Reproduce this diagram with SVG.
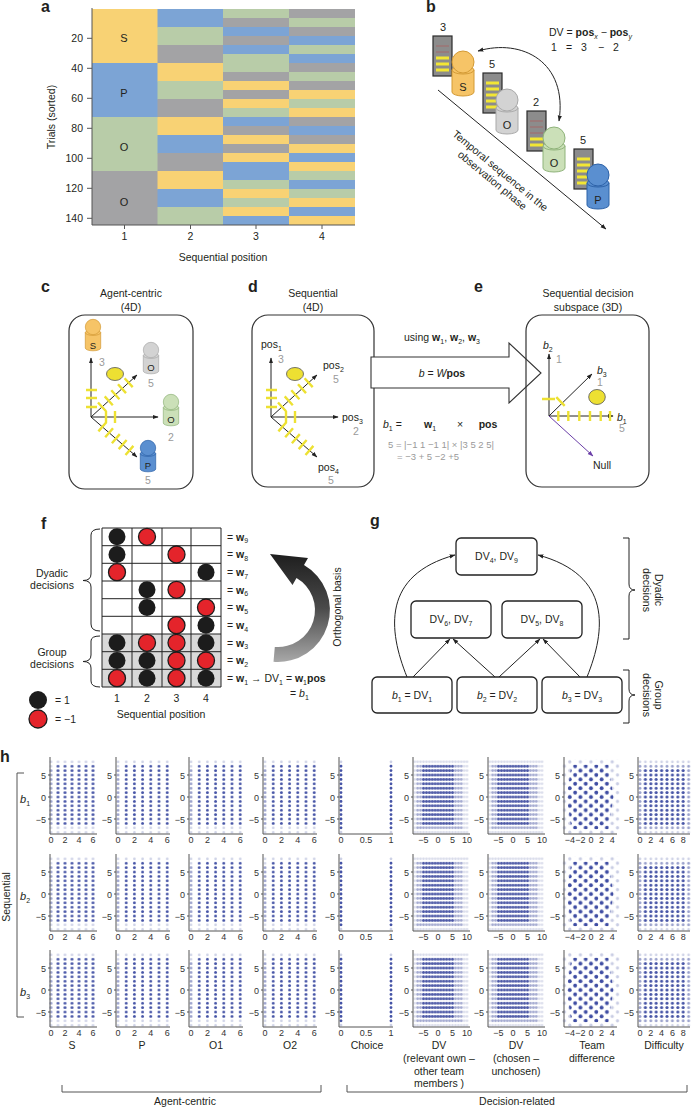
<svg xmlns="http://www.w3.org/2000/svg" xmlns:xlink="http://www.w3.org/1999/xlink" width="692" height="1107" viewBox="0 0 692 1107">
<style>
text{font-family:"Liberation Sans",Arial,Helvetica,sans-serif;fill:#231f20}
.pl{font-size:16px;font-weight:bold}
.f11{font-size:11px}
.f10{font-size:10.5px}
.f9{font-size:9.5px}
.tk{font-size:9px;fill:#333}
.sb{font-size:7px}
.gr{fill:#9a9a9a}
.c{text-anchor:middle}
.r{text-anchor:end}
.bd{font-weight:bold}
.it{font-style:italic}
.ax{stroke:#555;stroke-width:1;fill:none}
.ln{stroke:#222;stroke-width:1;fill:none}
.box{fill:none;stroke:#333;stroke-width:1.2}
.node{fill:#fff;stroke:#222;stroke-width:1.3}
.yt{stroke:#EDE132;stroke-width:2.4;fill:none}
.Y{fill:#F8D274}.B{fill:#7CA4D5}.G{fill:#B8CCA8}.K{fill:#A3A3A5}
.cb{fill:#1c1c1c}
.cr{fill:#E4242B;stroke:#1c1c1c;stroke-width:1.3}
.card{fill:#8C8C8C;stroke:#2b2b2b;stroke-width:1.2}
.ys{stroke:#F2E634;stroke-width:3.2}
.fs{stroke:#9C7474;stroke-width:1.4}
.dl{fill:none;stroke:#CDD1E6;stroke-width:2.8;stroke-linecap:round;stroke-dasharray:0 4.4}
.dd{fill:none;stroke:#4553A6;stroke-width:2.8;stroke-linecap:round;stroke-dasharray:0 4.4}
</style>
<defs>
<marker id="ah" viewBox="0 0 10 10" refX="9" refY="5" markerWidth="6" markerHeight="6" markerUnits="userSpaceOnUse" orient="auto-start-reverse"><path d="M0,1.5L10,5L0,8.5z" fill="#222"/></marker>
<marker id="ahp" viewBox="0 0 10 10" refX="9" refY="5" markerWidth="6" markerHeight="6" markerUnits="userSpaceOnUse" orient="auto"><path d="M0,1.5L10,5L0,8.5z" fill="#6B3FA8"/></marker>
<linearGradient id="gArc" x1="0" y1="0" x2="0" y2="1"><stop offset="0" stop-color="#1e1e1e"/><stop offset="0.5" stop-color="#4a4a4a"/><stop offset="1" stop-color="#a8a8a8"/></linearGradient>
<g id="agent"><path d="M-11,8V30A11,4 0 0 0 11,30V8Z"/><ellipse cx="0" cy="8" rx="11" ry="4"/><circle cx="0" cy="0" r="11"/></g>
<g id="axes4d">
<path class="ln" d="M0,0V-59" marker-end="url(#ah)"/>
<path class="ln" d="M0,0H67" marker-end="url(#ah)"/>
<path class="ln" d="M0,0L46,-42" marker-end="url(#ah)"/>
<path class="ln" d="M0,0L46,40" marker-end="url(#ah)"/>
<path class="yt" d="M-5,-10h11M-5,-19h11M-5,-27h11M15,-6v12M24,-6v12M15.1,-5.7L7,-14.5M21.8,-11.8L13.7,-20.6M28.4,-17.8L20.3,-26.7M35,-23.9L27,-32.7M41.7,-29.9L33.6,-38.8M15.3,5.3L7.4,14.4M22,11.2L14.2,20.3M28.8,17.1L20.9,26.2M35.6,23L27.7,32.1M42.4,28.9L34.5,38"/>
<ellipse cx="24" cy="-43" rx="8.5" ry="6.5" fill="#EDE032" stroke="#555" stroke-width="0.8"/>
</g>
<pattern id="p1L" patternUnits="userSpaceOnUse" x="-3.5" y="-2.2" width="7" height="4.4"><circle cx="3.5" cy="2.2" r="1.35" fill="#CDD1E6"/></pattern>
<pattern id="p1M" patternUnits="userSpaceOnUse" x="-3.5" y="-2.2" width="7" height="4.4"><circle cx="3.5" cy="2.2" r="1.35" fill="#9AA1CC"/></pattern>
<pattern id="p1D" patternUnits="userSpaceOnUse" x="-3.5" y="-2.2" width="7" height="4.4"><circle cx="3.5" cy="2.2" r="1.4" fill="#4553A6"/></pattern>
<pattern id="pAL" patternUnits="userSpaceOnUse" x="-4.1" y="-2.2" width="8.2" height="4.4"><circle cx="4.1" cy="2.2" r="1.35" fill="#CDD1E6"/></pattern>
<pattern id="pAM" patternUnits="userSpaceOnUse" x="-4.1" y="-2.2" width="8.2" height="4.4"><circle cx="4.1" cy="2.2" r="1.35" fill="#9AA1CC"/></pattern>
<pattern id="pAD" patternUnits="userSpaceOnUse" x="-4.1" y="-2.2" width="8.2" height="4.4"><circle cx="4.1" cy="2.2" r="1.4" fill="#4553A6"/></pattern>
<pattern id="pVL" patternUnits="userSpaceOnUse" x="-1.45" y="-2.2" width="2.9" height="4.4"><circle cx="1.45" cy="2.2" r="1.3" fill="#D8DBEA"/></pattern>
<pattern id="pVM" patternUnits="userSpaceOnUse" x="-1.45" y="-2.2" width="2.9" height="4.4"><circle cx="1.45" cy="2.2" r="1.3" fill="#A2A8D0"/></pattern>
<pattern id="pVD" patternUnits="userSpaceOnUse" x="-1.45" y="-2.2" width="2.9" height="4.4"><circle cx="1.45" cy="2.2" r="1.35" fill="#4B57A6"/></pattern>
<pattern id="pTL" patternUnits="userSpaceOnUse" x="-2.65" y="-2.2" width="10.6" height="8.8"><circle cx="2.65" cy="2.2" r="1.6" fill="#C9CDE4"/><circle cx="7.95" cy="6.6" r="1.6" fill="#C9CDE4"/></pattern>
<pattern id="pTD" patternUnits="userSpaceOnUse" x="-2.65" y="-2.2" width="10.6" height="8.8"><circle cx="2.65" cy="2.2" r="1.9" fill="#3F4DA3"/><circle cx="7.95" cy="6.6" r="1.9" fill="#3F4DA3"/></pattern>
<pattern id="pFL" patternUnits="userSpaceOnUse" x="-2.7" y="-2.2" width="5.4" height="4.4"><circle cx="2.7" cy="2.2" r="1.35" fill="#CDD1E6"/></pattern>
<pattern id="pFM" patternUnits="userSpaceOnUse" x="-2.7" y="-2.2" width="5.4" height="4.4"><circle cx="2.7" cy="2.2" r="1.35" fill="#9AA1CC"/></pattern>
<pattern id="pFD" patternUnits="userSpaceOnUse" x="-2.7" y="-2.2" width="5.4" height="4.4"><circle cx="2.7" cy="2.2" r="1.4" fill="#4553A6"/></pattern>
<g id="yax">
<path class="ax" d="M0,-22h-2M0,0h-2M0,22h-2"/>
<text class="tk r" x="-4" y="-18.5">5</text><text class="tk r" x="-4" y="3.5">0</text><text class="tk r" x="-4" y="25.5">−5</text>
</g>
<g id="plot1">
<g transform="translate(1,0)"><rect x="-3.5" y="-37.4" width="49" height="74.8" fill="url(#p1L)"/><rect x="-3.5" y="-28.6" width="7" height="57.2" fill="url(#p1M)"/><rect x="3.5" y="-33" width="42" height="61.6" fill="url(#p1D)"/></g>
<path class="ax" d="M0,-40V37H47"/><use xlink:href="#yax"/>
<text class="tk c" x="1" y="46">0</text><text class="tk c" x="15" y="46">2</text><text class="tk c" x="29" y="46">4</text><text class="tk c" x="43" y="46">6</text>
</g>
<g id="plotA">
<g transform="translate(2,0)"><rect x="-4.1" y="-37.4" width="57.4" height="74.8" fill="url(#pAL)"/><rect x="-4.1" y="-28.6" width="8.2" height="57.2" fill="url(#pAM)"/><rect x="4.1" y="-33" width="49.2" height="61.6" fill="url(#pAD)"/></g>
<path class="ax" d="M0,-40V37H54"/><use xlink:href="#yax"/>
<text class="tk c" x="2" y="46">0</text><text class="tk c" x="18.4" y="46">2</text><text class="tk c" x="34.8" y="46">4</text><text class="tk c" x="51.2" y="46">6</text>
</g>
<g id="plotC">
<path class="dl" d="M2,-35.2V35.3M52,-35.2V35.3"/>
<path class="dd" d="M2,-30.8V30.9M52,-30.8V30.9"/>
<path class="ax" d="M0,-40V37H54"/><use xlink:href="#yax"/>
<text class="tk c" x="2" y="46">0</text><text class="tk c" x="27" y="46">0.5</text><text class="tk c" x="52" y="46">1</text>
</g>
<g id="plotV">
<g transform="translate(25,0)"><rect x="-24.65" y="-37.4" width="55.1" height="74.8" fill="url(#pVL)"/><rect x="-21.75" y="-33" width="46.4" height="66" fill="url(#pVM)"/><rect x="-15.95" y="-33" width="31.9" height="61.6" fill="url(#pVD)"/></g>
<path class="ax" d="M0,-40V37H57"/><use xlink:href="#yax"/>
<text class="tk c" x="10.5" y="46">−5</text><text class="tk c" x="25" y="46">0</text><text class="tk c" x="39.5" y="46">5</text><text class="tk c" x="54" y="46">10</text>
</g>
<g id="plotT">
<g transform="translate(27,0)"><rect x="-29.15" y="-37.4" width="58.3" height="74.8" fill="url(#pTL)"/><polygon points="-19.6,-32.1 17.5,-32.1 22.3,0 17.5,32.1 -19.6,32.1 -24.4,0" fill="url(#pTD)"/></g>
<path class="ax" d="M0,-40V37H53"/><use xlink:href="#yax"/>
<text class="tk c" x="5.8" y="46">−4</text><text class="tk c" x="16.4" y="46">−2</text><text class="tk c" x="27" y="46">0</text><text class="tk c" x="37.6" y="46">2</text><text class="tk c" x="48.2" y="46">4</text>
</g>
<g id="plotF">
<g transform="translate(2,0)"><rect x="-2.7" y="-37.4" width="54" height="74.8" fill="url(#pFL)"/><rect x="-2.7" y="-33" width="54" height="66" fill="url(#pFM)"/><rect x="2.7" y="-28.6" width="43.2" height="57.2" fill="url(#pFD)"/></g>
<path class="ax" d="M0,-40V37H52"/><use xlink:href="#yax"/>
<text class="tk c" x="2" y="46">0</text><text class="tk c" x="12.8" y="46">2</text><text class="tk c" x="23.6" y="46">4</text><text class="tk c" x="34.4" y="46">6</text><text class="tk c" x="45.2" y="46">8</text>
</g>
</defs>
<rect width="692" height="1107" fill="#fff"/>

<!-- panel a -->
<g id="panel-a">
<text class="pl" x="41" y="12">a</text>
<g id="heatmap">
<rect class="Y" x="92" y="9" width="66" height="54.5"/><rect class="B" x="92" y="63" width="66" height="54.5"/><rect class="G" x="92" y="117" width="66" height="54.5"/><rect class="K" x="92" y="171" width="66" height="54"/>
<rect class="B" x="157.5" y="9" width="66" height="18.4"/><rect class="G" x="157.5" y="27" width="66" height="18.4"/><rect class="K" x="157.5" y="45" width="66" height="18.4"/><rect class="Y" x="157.5" y="63" width="66" height="18.4"/><rect class="G" x="157.5" y="81" width="66" height="18.4"/><rect class="K" x="157.5" y="99" width="66" height="18.4"/><rect class="Y" x="157.5" y="117" width="66" height="18.4"/><rect class="B" x="157.5" y="135" width="66" height="18.4"/><rect class="K" x="157.5" y="153" width="66" height="18.4"/><rect class="Y" x="157.5" y="171" width="66" height="18.4"/><rect class="B" x="157.5" y="189" width="66" height="18.4"/><rect class="G" x="157.5" y="207" width="66" height="18"/>
<g transform="translate(223,0)">
<rect class="G" y="9" width="66.5" height="9.4"/><rect class="K" y="18" width="66.5" height="9.4"/><rect class="B" y="27" width="66.5" height="9.4"/><rect class="K" y="36" width="66.5" height="9.4"/><rect class="B" y="45" width="66.5" height="9.4"/><rect class="G" y="54" width="66.5" height="9.4"/><rect class="G" y="63" width="66.5" height="9.4"/><rect class="K" y="72" width="66.5" height="9.4"/><rect class="Y" y="81" width="66.5" height="9.4"/><rect class="K" y="90" width="66.5" height="9.4"/><rect class="Y" y="99" width="66.5" height="9.4"/><rect class="G" y="108" width="66.5" height="9.4"/><rect class="B" y="117" width="66.5" height="9.4"/><rect class="K" y="126" width="66.5" height="9.4"/><rect class="Y" y="135" width="66.5" height="9.4"/><rect class="K" y="144" width="66.5" height="9.4"/><rect class="Y" y="153" width="66.5" height="9.4"/><rect class="B" y="162" width="66.5" height="9.4"/><rect class="B" y="171" width="66.5" height="9.4"/><rect class="G" y="180" width="66.5" height="9.4"/><rect class="Y" y="189" width="66.5" height="9.4"/><rect class="G" y="198" width="66.5" height="9.4"/><rect class="Y" y="207" width="66.5" height="9.4"/><rect class="B" y="216" width="66.5" height="9"/>
</g>
<g transform="translate(289,0)">
<rect class="K" y="9" width="66" height="9.4"/><rect class="G" y="18" width="66" height="9.4"/><rect class="K" y="27" width="66" height="9.4"/><rect class="B" y="36" width="66" height="9.4"/><rect class="G" y="45" width="66" height="9.4"/><rect class="B" y="54" width="66" height="9.4"/><rect class="K" y="63" width="66" height="9.4"/><rect class="G" y="72" width="66" height="9.4"/><rect class="K" y="81" width="66" height="9.4"/><rect class="Y" y="90" width="66" height="9.4"/><rect class="G" y="99" width="66" height="9.4"/><rect class="Y" y="108" width="66" height="9.4"/><rect class="K" y="117" width="66" height="9.4"/><rect class="B" y="126" width="66" height="9.4"/><rect class="K" y="135" width="66" height="9.4"/><rect class="Y" y="144" width="66" height="9.4"/><rect class="B" y="153" width="66" height="9.4"/><rect class="Y" y="162" width="66" height="9.4"/><rect class="G" y="171" width="66" height="9.4"/><rect class="B" y="180" width="66" height="9.4"/><rect class="G" y="189" width="66" height="9.4"/><rect class="Y" y="198" width="66" height="9.4"/><rect class="B" y="207" width="66" height="9.4"/><rect class="Y" y="216" width="66" height="9"/>
</g>
<text class="f11 c" x="124" y="42">S</text><text class="f11 c" x="124" y="97">P</text><text class="f11 c" x="124" y="151">O</text><text class="f11 c" x="124" y="206">O</text>
</g>
<path class="ax" d="M92,8V225H355M87,38.3h5M87,68.3h5M87,98.3h5M87,128.3h5M87,158.3h5M87,188.3h5M87,218.3h5M124.5,225v4M190.5,225v4M256,225v4M322,225v4"/>
<text class="f10 r" x="83" y="42">20</text><text class="f10 r" x="83" y="72">40</text><text class="f10 r" x="83" y="102">60</text><text class="f10 r" x="83" y="132">80</text><text class="f10 r" x="83" y="162">100</text><text class="f10 r" x="83" y="192">120</text><text class="f10 r" x="83" y="222">140</text>
<text class="f10 c" x="124.5" y="240">1</text><text class="f10 c" x="190.5" y="240">2</text><text class="f10 c" x="256" y="240">3</text><text class="f10 c" x="322" y="240">4</text>
<text class="f10 c" x="223" y="261">Sequential position</text>
<text class="f10 c" transform="translate(55,117) rotate(-90)">Trials (sorted)</text>
</g>

<!-- panel b -->
<g id="panel-b">
<text class="pl" x="426" y="12">b</text>
<text class="f10" x="549" y="36">DV = <tspan class="bd">pos</tspan><tspan class="sb it" dy="2.5">x</tspan><tspan dy="-2.5"> − </tspan><tspan class="bd">pos</tspan><tspan class="sb it" dy="2.5">y</tspan></text>
<text class="f10" y="51"><tspan x="551">1</tspan><tspan x="566">=</tspan><tspan x="581">3</tspan><tspan x="598">−</tspan><tspan x="613">2</tspan></text>
<g id="agent-b-S">
<rect class="card" x="433" y="36" width="19" height="40"/>
<path class="fs" d="M436,46h13M436,52h13"/><path class="ys" d="M436,58h13M436,64h13M436,70h13"/>
<text class="f11 c" x="443" y="31">3</text>
<use xlink:href="#agent" transform="translate(463,62)" fill="#F6C467" stroke="#D39A35"/>
<text class="f11 c" x="463" y="91">S</text>
</g>
<g id="agent-b-O1">
<rect class="card" x="483" y="73" width="19" height="40"/>
<path class="ys" d="M486,83h13M486,89h13M486,95h13M486,101h13M486,107h13"/>
<text class="f11 c" x="492" y="68">5</text>
<use xlink:href="#agent" transform="translate(507,100)" fill="#D3D3D3" stroke="#A9A9A9"/>
<text class="f11 c" x="507" y="129">O</text>
</g>
<g id="agent-b-O2">
<rect class="card" x="527" y="111" width="19" height="40"/>
<path class="fs" d="M530,121h13M530,127h13M530,133h13"/><path class="ys" d="M530,139h13M530,145h13"/>
<text class="f11 c" x="536" y="106">2</text>
<use xlink:href="#agent" transform="translate(554,138)" fill="#CBE0B8" stroke="#8FB37A"/>
<text class="f11 c" x="554" y="167">O</text>
</g>
<g id="agent-b-P">
<rect class="card" x="574" y="149" width="19" height="40"/>
<path class="ys" d="M577,159h13M577,165h13M577,171h13M577,177h13M577,183h13"/>
<text class="f11 c" x="583" y="144">5</text>
<use xlink:href="#agent" transform="translate(598,175)" fill="#5A8FD0" stroke="#2D62A8"/>
<text class="f11 c" x="598" y="204">P</text>
</g>
<g id="connectors-b">
<path class="ln" d="M478,51C522,38 568,62 559,121" marker-start="url(#ah)" marker-end="url(#ah)"/>
<path class="ln" d="M438,90L606,229" marker-end="url(#ah)"/>
</g>
<text class="f10 c" transform="translate(498,173.5) rotate(39.6)">Temporal sequence in the</text>
<text class="f10 c" transform="translate(490,183) rotate(39.6)">observation phase</text>
</g>

<!-- panel c -->
<g id="panel-c">
<text class="pl" x="41" y="292">c</text>
<text class="f10 c" x="131" y="297">Agent-centric</text>
<text class="f10 c" x="131" y="311">(4D)</text>
<rect class="box" x="69" y="315" width="124" height="174" rx="16"/>
<use xlink:href="#axes4d" transform="translate(91,417)"/>
<use xlink:href="#agent" transform="translate(93,327) scale(0.7)" fill="#F6C467" stroke="#D39A35"/>
<text class="f9 c" x="93" y="349">S</text>
<use xlink:href="#agent" transform="translate(151,350) scale(0.7)" fill="#D3D3D3" stroke="#A9A9A9"/>
<text class="f9 c" x="151" y="371">O</text>
<use xlink:href="#agent" transform="translate(171,402) scale(0.7)" fill="#CBE0B8" stroke="#8FB37A"/>
<text class="f9 c" x="171" y="423">O</text>
<use xlink:href="#agent" transform="translate(148,448) scale(0.7)" fill="#5A8FD0" stroke="#2D62A8"/>
<text class="f9 c" x="148" y="469">P</text>
<text class="f10 c gr" x="102" y="366">3</text>
<text class="f10 c gr" x="151" y="387">5</text>
<text class="f10 c gr" x="171" y="441">2</text>
<text class="f10 c gr" x="148" y="484">5</text>
</g>

<!-- panel d -->
<g id="panel-d">
<text class="pl" x="248" y="292">d</text>
<text class="f10 c" x="313" y="297">Sequential</text>
<text class="f10 c" x="313" y="311">(4D)</text>
<rect class="box" x="252" y="315" width="122" height="172" rx="16"/>
<use xlink:href="#axes4d" transform="translate(271,417)"/>
<text class="f10" x="261" y="348">pos<tspan class="sb" dy="2.5">1</tspan></text>
<text class="f10 gr" x="278" y="363">3</text>
<text class="f10" x="323" y="369">pos<tspan class="sb" dy="2.5">2</tspan></text>
<text class="f10 gr" x="333" y="383">5</text>
<text class="f10" x="342" y="421">pos<tspan class="sb" dy="2.5">3</tspan></text>
<text class="f10 gr" x="353" y="435">2</text>
<text class="f10" x="318" y="471">pos<tspan class="sb" dy="2.5">4</tspan></text>
<text class="f10 gr" x="328" y="484">5</text>
</g>

<!-- big transform arrow -->
<g id="transform-arrow">
<polygon points="371,357 509,357 509,343 541,373 509,403 509,388 371,388" fill="#fff" stroke="#333" stroke-width="1.1"/>
<text class="f10 c" x="442" y="341">using <tspan class="bd">w</tspan><tspan class="sb" dy="2.5">1</tspan><tspan dy="-2.5">, </tspan><tspan class="bd">w</tspan><tspan class="sb" dy="2.5">2</tspan><tspan dy="-2.5">, </tspan><tspan class="bd">w</tspan><tspan class="sb" dy="2.5">3</tspan></text>
<text class="f10 c" x="442" y="377"><tspan class="it">b</tspan> = <tspan class="it">W</tspan><tspan class="bd">pos</tspan></text>
<text class="f10" x="383" y="428"><tspan class="it">b</tspan><tspan class="sb" dy="2.5">1</tspan><tspan dy="-2.5"> =</tspan></text>
<text class="f10" x="424" y="428"><tspan class="bd">w</tspan><tspan class="sb" dy="2.5">1</tspan></text>
<text class="f10 c" x="460" y="428">×</text>
<text class="f10 c bd" x="488" y="428">pos</text>
<text class="f9 gr" x="388" y="448">5 = |−1 1 −1 1| × |3 5 2 5|</text>
<text class="f9 gr" x="397" y="460">= −3 + 5 −2 +5</text>
</g>

<!-- panel e -->
<g id="panel-e">
<text class="pl" x="474" y="292">e</text>
<text class="f10 c" x="588" y="297">Sequential decision</text>
<text class="f10 c" x="588" y="311">subspace (3D)</text>
<rect class="box" x="526" y="315" width="123" height="172" rx="16"/>
<g transform="translate(549,416)">
<path class="ln" d="M0,0V-62" marker-end="url(#ah)"/>
<path class="ln" d="M0,0H64" marker-end="url(#ah)"/>
<path class="ln" d="M0,0L43,-42" marker-end="url(#ah)"/>
<path d="M0,0L44,40" stroke="#6B3FA8" stroke-width="1" fill="none" marker-end="url(#ahp)"/>
<path class="yt" d="M9.3,-5v10M19.3,-5v10M30.3,-5v10M41,-5v10M51.7,-5v10M61,-5v10M-7,-17h13M15.7,-10.2L7.3,-18.8"/>
<ellipse cx="48" cy="-19" rx="8.3" ry="7.5" fill="#EDE032" stroke="#555" stroke-width="0.8"/>
</g>
<text class="f10" x="543" y="349"><tspan class="it">b</tspan><tspan class="sb" dy="2.5">2</tspan></text>
<text class="f10 gr" x="556" y="363">1</text>
<text class="f10" x="597" y="374"><tspan class="it">b</tspan><tspan class="sb" dy="2.5">3</tspan></text>
<text class="f10 gr" x="597" y="386">1</text>
<text class="f10" x="617" y="421"><tspan class="it">b</tspan><tspan class="sb" dy="2.5">1</tspan></text>
<text class="f10 gr" x="619" y="432">5</text>
<text class="f10 c" x="602" y="469">Null</text>
</g>

<!-- panel f -->
<g id="panel-f">
<text class="pl" x="41" y="529">f</text>
<rect x="102" y="634" width="119" height="53" fill="#D9D9D9"/>
<path d="M102,528H221M102,545.7H221M102,563.3H221M102,581H221M102,598.7H221M102,616.3H221M102,634H221M102,651.7H221M102,669.3H221M102,687H221M102,528V687M132,528V687M162,528V687M191,528V687M221,528V687" stroke="#222" stroke-width="1" fill="none"/>
<g id="weights">
<circle class="cb" cx="117" cy="536.8" r="8.5"/><circle class="cr" cx="147" cy="536.8" r="8.5"/>
<circle class="cb" cx="117" cy="554.5" r="8.5"/><circle class="cr" cx="176.5" cy="554.5" r="8.5"/>
<circle class="cr" cx="117" cy="572.2" r="8.5"/><circle class="cb" cx="206" cy="572.2" r="8.5"/>
<circle class="cb" cx="147" cy="589.8" r="8.5"/><circle class="cr" cx="176.5" cy="589.8" r="8.5"/>
<circle class="cb" cx="147" cy="607.5" r="8.5"/><circle class="cr" cx="206" cy="607.5" r="8.5"/>
<circle class="cr" cx="176.5" cy="625.2" r="8.5"/><circle class="cb" cx="206" cy="625.2" r="8.5"/>
<circle class="cb" cx="117" cy="642.8" r="8.5"/><circle class="cr" cx="147" cy="642.8" r="8.5"/><circle class="cr" cx="176.5" cy="642.8" r="8.5"/><circle class="cb" cx="206" cy="642.8" r="8.5"/>
<circle class="cb" cx="117" cy="660.5" r="8.5"/><circle class="cb" cx="147" cy="660.5" r="8.5"/><circle class="cr" cx="176.5" cy="660.5" r="8.5"/><circle class="cr" cx="206" cy="660.5" r="8.5"/>
<circle class="cr" cx="117" cy="678.2" r="8.5"/><circle class="cb" cx="147" cy="678.2" r="8.5"/><circle class="cr" cx="176.5" cy="678.2" r="8.5"/><circle class="cb" cx="206" cy="678.2" r="8.5"/>
</g>
<g>
<text class="f10" x="227" y="540.5">= <tspan class="bd">w</tspan><tspan class="sb" dy="2.5">9</tspan></text>
<text class="f10" x="227" y="558">= <tspan class="bd">w</tspan><tspan class="sb" dy="2.5">8</tspan></text>
<text class="f10" x="227" y="576">= <tspan class="bd">w</tspan><tspan class="sb" dy="2.5">7</tspan></text>
<text class="f10" x="227" y="593.5">= <tspan class="bd">w</tspan><tspan class="sb" dy="2.5">6</tspan></text>
<text class="f10" x="227" y="611">= <tspan class="bd">w</tspan><tspan class="sb" dy="2.5">5</tspan></text>
<text class="f10" x="227" y="629">= <tspan class="bd">w</tspan><tspan class="sb" dy="2.5">4</tspan></text>
<text class="f10" x="227" y="646.5">= <tspan class="bd">w</tspan><tspan class="sb" dy="2.5">3</tspan></text>
<text class="f10" x="227" y="664">= <tspan class="bd">w</tspan><tspan class="sb" dy="2.5">2</tspan></text>
<text class="f10" x="227" y="682">= <tspan class="bd">w</tspan><tspan class="sb" dy="2.5">1</tspan><tspan dy="-2.5"> → DV</tspan><tspan class="sb" dy="2.5">1</tspan><tspan dy="-2.5"> = </tspan><tspan class="bd">w</tspan><tspan class="sb" dy="2.5">1</tspan><tspan class="bd" dy="-2.5">pos</tspan></text>
<text class="f10" x="290" y="697">= <tspan class="it">b</tspan><tspan class="sb" dy="2.5">1</tspan></text>
</g>
<path class="ln" d="M100,529Q91,529 91,535V574Q91,580.5 83,580.5Q91,580.5 91,587V624Q91,631 100,631"/>
<path class="ln" d="M100,636Q91,636 91,641V655Q91,661.5 83,661.5Q91,661.5 91,668V681Q91,687 100,687"/>
<text class="f10 c" x="52" y="577">Dyadic</text><text class="f10 c" x="52" y="589">decisions</text>
<text class="f10 c" x="52" y="656">Group</text><text class="f10 c" x="52" y="668">decisions</text>
<circle class="cb" cx="38" cy="700" r="9"/><text class="f10" x="55" y="704">= 1</text>
<circle class="cr" cx="38" cy="719" r="9"/><text class="f10" x="55" y="723">= −1</text>
<text class="f10 c" x="117" y="702">1</text><text class="f10 c" x="147" y="702">2</text><text class="f10 c" x="176.5" y="702">3</text><text class="f10 c" x="206" y="702">4</text>
<text class="f10 c" x="161" y="718">Sequential position</text>
<g id="orthogonal-arrow">
<path d="M273.5,661.8A52,52 0 0 0 304,565L308,558L270,554L292.5,584.9L296.5,578A37,37 0 0 1 274.8,646.9Z" fill="url(#gArc)"/>
<text class="f10 c" transform="translate(341,607) rotate(-90)">Orthogonal basis</text>
</g>
</g>

<!-- panel g -->
<g id="panel-g">
<text class="pl" x="370" y="526">g</text>
<g id="connectors-g">
<path class="ln" d="M413,677L450,639" marker-end="url(#ah)"/>
<path class="ln" d="M495,677L453,639" marker-end="url(#ah)"/>
<path class="ln" d="M499,677L540,639" marker-end="url(#ah)"/>
<path class="ln" d="M580,677L543,639" marker-end="url(#ah)"/>
<path class="ln" d="M407,677C388,630 382,575 455,555" marker-end="url(#ah)"/>
<path class="ln" d="M587,677C606,630 612,575 538,555" marker-end="url(#ah)"/>
</g>
<g id="node-dv49"><rect class="node" x="456" y="538" width="81" height="37" rx="5"/><text class="f10 c" x="496.5" y="560">DV<tspan class="sb" dy="2.5">4</tspan><tspan dy="-2.5">, DV</tspan><tspan class="sb" dy="2.5">9</tspan></text></g>
<g id="node-dv67"><rect class="node" x="411" y="601" width="80" height="37" rx="5"/><text class="f10 c" x="451" y="623">DV<tspan class="sb" dy="2.5">6</tspan><tspan dy="-2.5">, DV</tspan><tspan class="sb" dy="2.5">7</tspan></text></g>
<g id="node-dv58"><rect class="node" x="502" y="601" width="80" height="37" rx="5"/><text class="f10 c" x="542" y="623">DV<tspan class="sb" dy="2.5">5</tspan><tspan dy="-2.5">, DV</tspan><tspan class="sb" dy="2.5">8</tspan></text></g>
<g id="node-b1"><rect class="node" x="372" y="677" width="80" height="36" rx="5"/><text class="f10 c" x="412" y="699"><tspan class="it">b</tspan><tspan class="sb" dy="2.5">1</tspan><tspan dy="-2.5"> = DV</tspan><tspan class="sb" dy="2.5">1</tspan></text></g>
<g id="node-b2"><rect class="node" x="457" y="677" width="80" height="36" rx="5"/><text class="f10 c" x="497" y="699"><tspan class="it">b</tspan><tspan class="sb" dy="2.5">2</tspan><tspan dy="-2.5"> = DV</tspan><tspan class="sb" dy="2.5">2</tspan></text></g>
<g id="node-b3"><rect class="node" x="542" y="677" width="80" height="36" rx="5"/><text class="f10 c" x="582" y="699"><tspan class="it">b</tspan><tspan class="sb" dy="2.5">3</tspan><tspan dy="-2.5"> = DV</tspan><tspan class="sb" dy="2.5">3</tspan></text></g>
<path class="ln" d="M623,538H629V584Q629,590 635,590Q629,590 629,596V639H623"/>
<path class="ln" d="M623,670H629V689Q629,695 635,695Q629,695 629,701V723H623"/>
<text class="f10 c" transform="translate(655,590) rotate(90)">Dyadic</text>
<text class="f10 c" transform="translate(643,590) rotate(90)">decisions</text>
<text class="f10 c" transform="translate(655,695) rotate(90)">Group</text>
<text class="f10 c" transform="translate(643,695) rotate(90)">decisions</text>
</g>

<!-- panel h -->
<g id="panel-h">
<text class="pl" x="0" y="762">h</text>
<use xlink:href="#plot1" x="50" y="797"/><use xlink:href="#plotA" x="116" y="797"/><use xlink:href="#plotA" x="189" y="797"/><use xlink:href="#plotA" x="263" y="797"/><use xlink:href="#plotC" x="339" y="797"/><use xlink:href="#plotV" x="413" y="797"/><use xlink:href="#plotV" x="488" y="797"/><use xlink:href="#plotT" x="564" y="797"/><use xlink:href="#plotF" x="638" y="797"/>
<use xlink:href="#plot1" x="50" y="894"/><use xlink:href="#plotA" x="116" y="894"/><use xlink:href="#plotA" x="189" y="894"/><use xlink:href="#plotA" x="263" y="894"/><use xlink:href="#plotC" x="339" y="894"/><use xlink:href="#plotV" x="413" y="894"/><use xlink:href="#plotV" x="488" y="894"/><use xlink:href="#plotT" x="564" y="894"/><use xlink:href="#plotF" x="638" y="894"/>
<use xlink:href="#plot1" x="50" y="990"/><use xlink:href="#plotA" x="116" y="990"/><use xlink:href="#plotA" x="189" y="990"/><use xlink:href="#plotA" x="263" y="990"/><use xlink:href="#plotC" x="339" y="990"/><use xlink:href="#plotV" x="413" y="990"/><use xlink:href="#plotV" x="488" y="990"/><use xlink:href="#plotT" x="564" y="990"/><use xlink:href="#plotF" x="638" y="990"/>
<path class="ax" d="M24,773H17V1017H24"/>
<text class="f10 c" transform="translate(10,897) rotate(-90)">Sequential</text>
<text class="f11" x="20" y="803"><tspan class="it">b</tspan><tspan class="sb" dy="2.5">1</tspan></text>
<text class="f11" x="20" y="900"><tspan class="it">b</tspan><tspan class="sb" dy="2.5">2</tspan></text>
<text class="f11" x="20" y="996"><tspan class="it">b</tspan><tspan class="sb" dy="2.5">3</tspan></text>
<text class="f10 c" x="72" y="1049">S</text>
<text class="f10 c" x="142" y="1049">P</text>
<text class="f10 c" x="216" y="1049">O1</text>
<text class="f10 c" x="290" y="1049">O2</text>
<text class="f10 c" x="367" y="1049">Choice</text>
<text class="f10 c" x="439" y="1049">DV</text>
<text class="f10 c" x="439" y="1062">(relevant own –</text>
<text class="f10 c" x="439" y="1075">other team</text>
<text class="f10 c" x="439" y="1087">members )</text>
<text class="f10 c" x="516" y="1049">DV</text>
<text class="f10 c" x="516" y="1062">(chosen –</text>
<text class="f10 c" x="516" y="1075">unchosen)</text>
<text class="f10 c" x="592" y="1049">Team</text>
<text class="f10 c" x="592" y="1062">difference</text>
<text class="f10 c" x="664" y="1049">Difficulty</text>
<path class="ax" d="M62,1085V1092H321V1085M347,1085V1092H687V1085"/>
<text class="f10 c" x="185" y="1105">Agent-centric</text>
<text class="f10 c" x="517" y="1105">Decision-related</text>
</g>
</svg>
